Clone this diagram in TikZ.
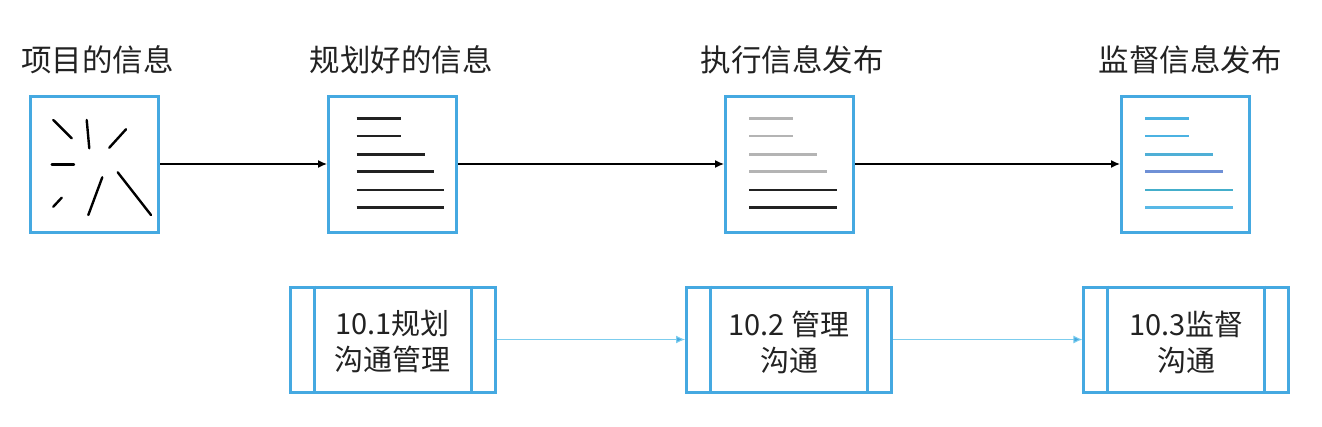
\documentclass[tikz,border=0pt]{standalone}
\usepackage{fontspec}
\setmainfont{Noto Sans CJK SC}
\usetikzlibrary{arrows.meta}
\definecolor{boxblue}{HTML}{45A9E1}
\definecolor{lineblue}{HTML}{7CCDEE}
\definecolor{txt}{HTML}{222222}
\definecolor{lgray}{HTML}{B4B4B4}
\definecolor{dk}{HTML}{222222}
\definecolor{cA}{HTML}{4BB2E2}
\definecolor{cB}{HTML}{4FAFD6}
\definecolor{cC}{HTML}{6F90D6}
\definecolor{cD}{HTML}{44AECB}
\definecolor{cE}{HTML}{58B8E6}
\tikzset{
  docbox/.style={draw=boxblue, line width=3pt, fill=white, minimum width=128pt, minimum height=136pt, inner sep=0pt},
  procbox/.style={draw=boxblue, line width=3pt, fill=white, minimum width=205pt, minimum height=105pt, inner sep=0pt},
  title/.style={font=\fontsize{30.5}{36}\selectfont, text=txt},
  ptext/.style={font=\fontsize{29}{36}\selectfont, text=txt, align=center},
  flow/.style={line width=1.4pt, draw=black, -{Latex[length=9pt,width=8pt]}},
  stroke/.style={line width=2.4pt, line cap=round},
  rule/.style={line width=2.6pt}
}
\begin{document}
\begin{tikzpicture}[x=1pt,y=-1pt]
\useasboundingbox (0,0) rectangle (1322,426);
% titles
\node[title] (t1) at (97.5,60) {项目的信息};
\node[title] (t2) at (401,60) {规划好的信息};
\node[title] (t3) at (792,60) {执行信息发布};
\node[title] (t4) at (1190,60) {监督信息发布};
% document boxes
\node[docbox] (d1) at (94.5,164) {};
\node[docbox] (d2) at (392.5,164) {};
\node[docbox] (d3) at (789.5,164) {};
\node[docbox] (d4) at (1185.5,164) {};
% arrows between docs
\draw[flow] (d1.east) -- (d2.west);
\draw[flow] (d2.east) -- (d3.west);
\draw[flow] (d3.east) -- (d4.west);
% scattered strokes in box 1
\draw[stroke] (53.3,120) -- (71.7,138.3);
\draw[stroke] (86.7,120) -- (89.3,148.3);
\draw[stroke] (126,129.3) -- (109.3,147.7);
\draw[stroke] (51.7,164.3) -- (74,164.3);
\draw[stroke] (61.7,197.7) -- (53.3,206.7);
\draw[stroke] (102.3,177.3) -- (88.3,215);
\draw[stroke] (117.7,172.3) -- (151,215);
% box 2 lines
\foreach \y/\e in {118.3/400.7,136/400.7,154.3/425,171.7/434.3,190/444.3,207.7/444.3}
  \draw[rule, dk] (356.7,\y) -- (\e,\y);
% box 3 lines
\foreach \y/\e/\c in {118.3/793.3/lgray,136/793.3/lgray,154.3/817.3/lgray,171.7/827.3/lgray,190/837.3/dk,207.7/837.3/dk}
  \draw[rule, \c] (749.3,\y) -- (\e,\y);
% box 4 lines
\foreach \y/\e/\c in {118.3/1189/cA,136/1189/cA,154.3/1213/cB,171.7/1223/cC,190/1232.7/cD,207.7/1232.7/cE}
  \draw[rule, \c] (1145,\y) -- (\e,\y);
% process boxes
\node[procbox] (p1) at (392.5,339.5) {};
\node[procbox] (p2) at (789,339.5) {};
\node[procbox] (p3) at (1186.4,339.5) {};
\foreach \p in {p1,p2,p3}{
  \draw[draw=boxblue, line width=3pt] ([xshift=25.5pt]\p.north west) -- ([xshift=25.5pt]\p.south west);
  \draw[draw=boxblue, line width=3pt] ([xshift=-25.5pt]\p.north east) -- ([xshift=-25.5pt]\p.south east);
}
\node[ptext] (l1) at (392.5,342) {10.1规划\\沟通管理};
\node[ptext] (l2) at (789,342) {10.2 管理\\沟通};
\node[ptext] (l3) at (1186.4,342) {10.3监督\\沟通};
\draw[line width=1pt, lineblue, -{Latex[length=9pt,width=8pt,fill=boxblue]}] (p1.east) -- (p2.west);
\draw[line width=1pt, lineblue, -{Latex[length=9pt,width=8pt,fill=boxblue]}] (p2.east) -- (p3.west);
\end{tikzpicture}
\end{document}
